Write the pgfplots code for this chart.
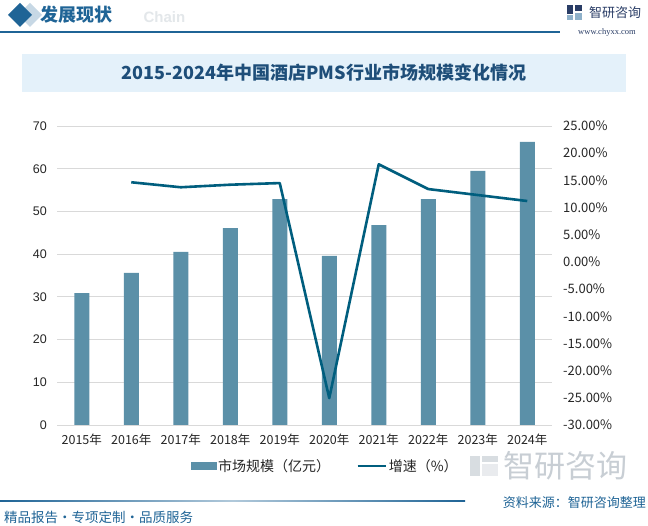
\documentclass[border=0pt]{standalone}
\usepackage{pgfplots}
\pgfplotsset{compat=1.18}
\usepackage{fontspec}
\setmainfont{Noto Sans CJK SC}
\newfontfamily\lsans{Liberation Sans}
\newfontfamily\lserif{Liberation Serif}
\definecolor{barc}{RGB}{91,144,168}
\definecolor{linec}{RGB}{0,94,126}
\definecolor{hdr}{RGB}{31,100,150}
\definecolor{titlebg}{RGB}{228,241,250}
\definecolor{titlec}{RGB}{30,78,121}
\definecolor{gridc}{RGB}{217,217,217}
\definecolor{logoc}{RGB}{42,61,102}
\definecolor{wm}{RGB}{200,206,212}

\begin{document}
\begin{tikzpicture}[x=1pt,y=1pt]
\path[use as bounding box, fill=white] (0,0) rectangle (648,526);

% header
\fill[hdr!25] (30,499) -- (42,511) -- (30,523) -- (18,511) -- cycle;
\fill[hdr] (20,499) -- (32,511) -- (20,523) -- (8,511) -- cycle;
\node[anchor=west, text=wm!50, font=\lsans\bfseries\fontsize{15}{15}\selectfont] at (140,509) {Chain};
\node[anchor=west, text=hdr, font=\bfseries\fontsize{18}{18}\selectfont, inner sep=0pt] at (40,511) {发展现状};
\draw[hdr, line width=1.1pt] (0,494) -- (560,494);

% top right logo
\fill[logoc] (567,512) rectangle (573,521);
\fill[hdr!50] (567,506) rectangle (573,511);
\fill[logoc] (575,515) rectangle (582,521);
\fill[hdr!50] (575,506) rectangle (582,513);
\node[anchor=west, text=logoc, font=\fontsize{13}{13}\selectfont, inner sep=0pt] at (589,513) {智研咨询};
\node[text=logoc, font=\lserif\fontsize{8.5}{9}\selectfont, inner sep=0pt] at (607,494) {www.chyxx.com};

% title box
\fill[titlebg] (22,434) rectangle (626,472);
\node[text=titlec, font=\bfseries\fontsize{18}{18}\selectfont] at (324,453) {2015-2024年中国酒店PMS行业市场规模变化情况};

% bottom watermark logo
\fill[wm!70] (470,50) rectangle (480,70);
\fill[wm!40] (482,50) rectangle (498,62);
\fill[wm!70] (482,64) rectangle (498,70);
\node[anchor=west, text=wm, font=\fontsize{31}{31}\selectfont, inner sep=0pt] at (503,60) {智研咨询};

\begin{axis}[
  at={(57pt,101pt)}, anchor=south west,
  width=495pt, height=299pt, scale only axis,
  xmin=-0.5, xmax=9.5, ymin=0, ymax=70,
  ytick={0,10,...,70},
  xtick={0,...,9},
  xticklabels={2015年,2016年,2017年,2018年,2019年,2020年,2021年,2022年,2023年,2024年},
  ymajorgrids, grid style={gridc, line width=0.8pt},
  axis line style={draw=none},
  major tick length=0pt,
  yticklabel style={anchor=east, inner sep=0pt, xshift=-10pt, font=\lsans\fontsize{12.5}{13}\selectfont, text=black!85},
  xticklabel style={anchor=north, inner sep=0pt, yshift=-9pt, font=\fontsize{12.5}{13}\selectfont, text=black!85},
  /pgf/number format/assume math mode=true,
]
\addplot[ybar, bar width=15pt, fill=barc, draw=none] coordinates {
  (0,30.9) (1,35.6) (2,40.5) (3,46.1) (4,52.9)
  (5,39.6) (6,46.8) (7,52.9) (8,59.5) (9,66.3)
};
\end{axis}

\begin{axis}[
  at={(57pt,101pt)}, anchor=south west,
  width=495pt, height=299pt, scale only axis,
  xmin=-0.5, xmax=9.5, ymin=-30, ymax=25,
  axis y line*=right, axis x line=none,
  ytick={-30,-25,...,25},
  axis line style={draw=none},
  major tick length=0pt,
  yticklabel={\pgfmathprintnumber[fixed,fixed zerofill,precision=2]{\tick}\%},
  yticklabel style={anchor=west, inner sep=0pt, xshift=11pt, font=\fontsize{13}{13}\selectfont, text=black!85},
  /pgf/number format/assume math mode=true,
  legend style={at={(0.542,-0.137)}, anchor=center, draw=none, fill=none,
    legend columns=2, inner sep=0pt,
    /tikz/every even column/.append style={column sep=24pt},
    font=\fontsize{14}{14}\selectfont, text=black!85},
]
\addlegendimage{legend image code/.code={\fill[barc] (0pt,-3.5pt) rectangle (25pt,3.5pt);}}
\addlegendentry{市场规模（亿元）}
\addplot[linec, line width=2.6pt, line join=round,
  legend image code/.code={\draw[linec, line width=2.6pt] (0pt,0pt) -- (28pt,0pt);}] coordinates {
  (1,14.65) (2,13.73) (3,14.2) (4,14.5) (5,-25.06)
  (6,17.95) (7,13.4) (8,12.3) (9,11.2)
};
\addlegendentry{增速（\%）}
\end{axis}

% bottom
\shade[left color=hdr, right color=hdr, middle color=hdr!35] (0,24.5) rectangle (465,25.6);
\node[anchor=east, text=hdr, font=\fontsize{13}{13}\selectfont, inner sep=0pt] at (646,23) {资料来源：智研咨询整理};
\node[anchor=west, text=hdr, font=\fontsize{13.5}{14}\selectfont, inner sep=0pt] at (4,9) {精品报告·专项定制·品质服务};
\end{tikzpicture}
\end{document}
